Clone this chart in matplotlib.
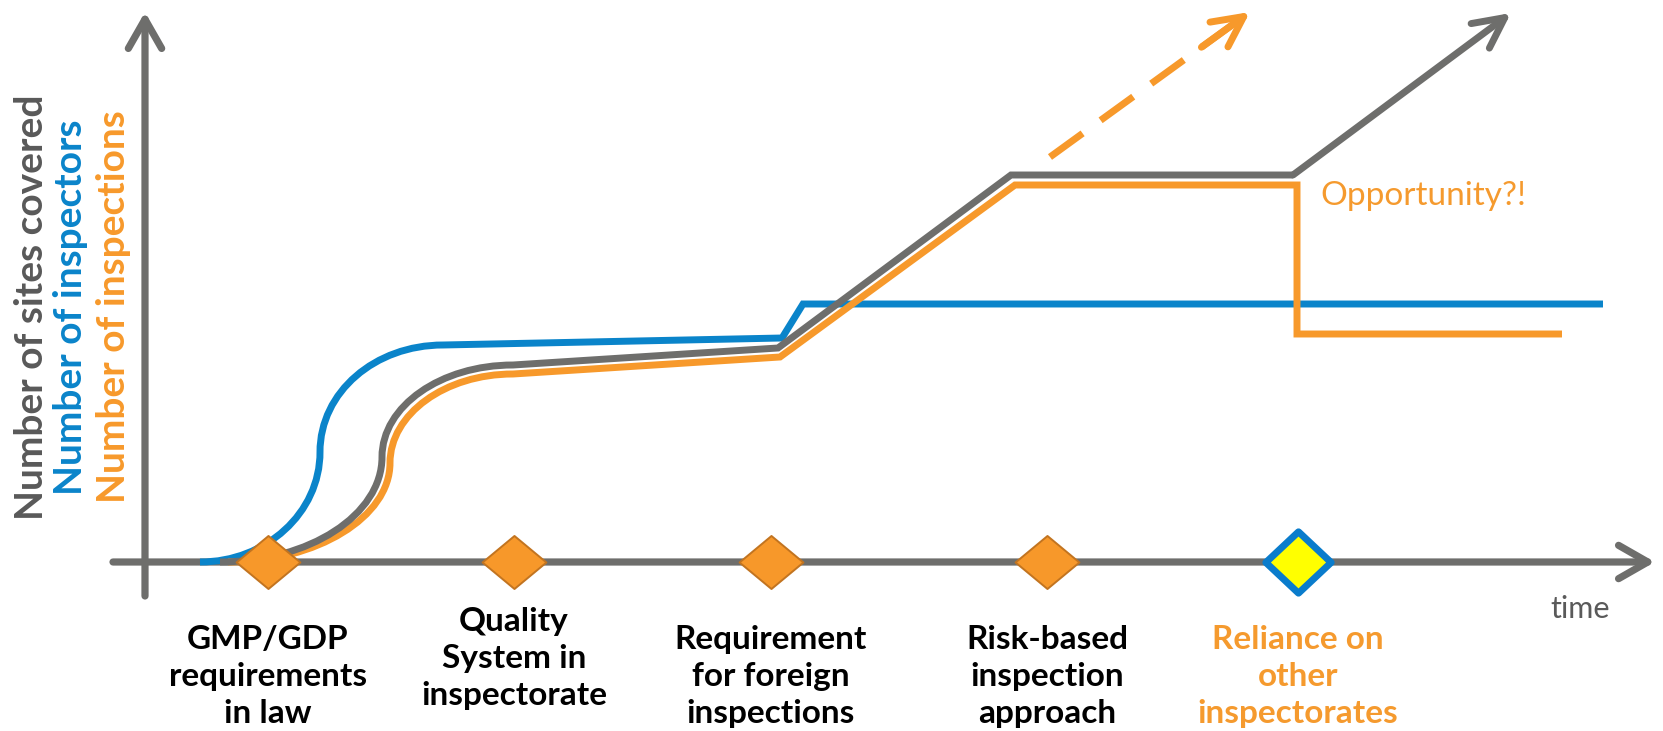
import matplotlib.pyplot as plt
import numpy as np
from matplotlib.path import Path
from matplotlib.patches import PathPatch, FancyArrowPatch

plt.rcParams['font.family'] = ['Lato', 'DejaVu Sans']

GREY = '#6e6e6c'
BLUE = '#0a84ca'
ORANGE = '#f7992b'
TEXT_ORANGE = '#f59a2e'

# milestones along the time axis
milestones = ['GMP/GDP\nrequirements\nin law',
              'Quality\nSystem in\ninspectorate',
              'Requirement\nfor foreign\ninspections',
              'Risk-based\ninspection\napproach',
              'Reliance on\nother\ninspectorates']
milestone_t = [1.23, 3.69, 6.26, 9.02, 11.53]

# number of inspectors (bezier S-curve, then straight segments)
inspectors_t = [0.55, 1.21, 1.75, 1.75, 1.75, 2.30, 2.98, 6.37, 6.58, 14.58]
inspectors_v = [0.00, 0.00, 0.49, 1.10, 1.70, 2.17, 2.17, 2.24, 2.58, 2.58]

# number of sites covered
sites_t = [0.75, 1.64, 2.37, 2.37, 2.37, 2.96, 3.68, 6.33, 8.66, 11.48]
sites_v = [0.00, 0.00, 0.47, 1.05, 1.56, 1.97, 1.97, 2.14, 3.87, 3.87]
sites_arrow_t = [11.48, 13.66]
sites_arrow_v = [3.87, 5.49]

# number of inspections
inspections_t = [0.83, 1.72, 2.45, 2.45, 2.45, 3.00, 3.68, 6.35, 8.70, 11.52, 11.52, 14.17]
inspections_v = [0.00, 0.00, 0.45, 0.99, 1.48, 1.88, 1.88, 2.05, 3.77, 3.77, 2.28, 2.28]
projection_t = [9.05, 11.05]
projection_v = [4.05, 5.50]

curve_codes = [Path.MOVETO] + [Path.CURVE4] * 6


def series_path(t, v):
    codes = curve_codes + [Path.LINETO] * (len(t) - 7)
    return Path(np.column_stack([t, v]), codes)


def open_arrow(ax, start, end, color, lw, hl=21, hw=12, z=3):
    arr = FancyArrowPatch(start, end,
                          arrowstyle=f'->,head_length={hl},head_width={hw}',
                          mutation_scale=1, shrinkA=0, shrinkB=0,
                          color=color, lw=lw, capstyle='round',
                          joinstyle='round', zorder=z)
    ax.add_patch(arr)


fig = plt.figure(figsize=(16.63, 7.31), dpi=100)
ax = fig.add_axes([0, 0, 1, 1])
ax.set_xlim(-1.45, 15.18)
ax.set_ylim(-1.69, 5.62)
ax.axis('off')

# axes with arrow heads
open_arrow(ax, (-0.32, 0), (15.10, 0), GREY, 5.2, z=1)
open_arrow(ax, (0, -0.34), (0, 5.50), GREY, 5.2, z=1)

lw = 5
ax.add_patch(PathPatch(series_path(inspectors_t, inspectors_v), fill=False,
                       ec=BLUE, lw=lw, joinstyle='miter', zorder=2))
ax.add_patch(PathPatch(series_path(inspections_t, inspections_v), fill=False,
                       ec=ORANGE, lw=lw, joinstyle='miter', zorder=2))
ax.add_patch(PathPatch(series_path(sites_t, sites_v), fill=False,
                       ec=GREY, lw=lw, joinstyle='miter', zorder=2.5))
open_arrow(ax, (sites_arrow_t[0], sites_arrow_v[0]),
           (sites_arrow_t[1], sites_arrow_v[1]), GREY, lw, hl=22, hw=11)

# dashed projection of inspections, solid tail into the head
ax.plot(projection_t, projection_v, color=ORANGE, lw=lw,
        ls=(0, (5.8, 3.2)), solid_capstyle='butt', dash_capstyle='butt', zorder=2)
tip = np.array([projection_t[1], projection_v[1]])
base = np.array([projection_t[0], projection_v[0]])
d = (tip - base) / np.linalg.norm(tip - base)
open_arrow(ax, tuple(tip - 0.6 * d), tuple(tip), ORANGE, lw, hl=22, hw=11)

# milestone markers
diamond = Path([(0, 0.83), (1, 0), (0, -0.83), (-1, 0), (0, 0.83)],
               [Path.MOVETO, Path.LINETO, Path.LINETO, Path.LINETO, Path.CLOSEPOLY])
square_diamond = Path([(0, 0.94), (1, 0), (0, -0.94), (-1, 0), (0, 0.94)],
                      [Path.MOVETO, Path.LINETO, Path.LINETO, Path.LINETO, Path.CLOSEPOLY])
ax.plot(milestone_t[:-1], [0] * 4, ls='none', marker=diamond, ms=46,
        mfc='#f7982a', mec='#c27420', mew=1.4, zorder=4)
ax.plot(milestone_t[-1:], [0], ls='none', marker=square_diamond, ms=47,
        mfc='#ffff00', mec='#0a7ccc', mew=5, zorder=4)

# milestone captions (anchored on the baseline of the last line)
for i, (t, lab) in enumerate(zip(milestone_t, milestones)):
    y = -1.43 if i == 1 else -1.61
    col = TEXT_ORANGE if i == len(milestones) - 1 else 'black'
    ax.text(t, y, lab, ha='center', va='baseline', fontsize=24,
            fontweight='bold', color=col, linespacing=1.34)

# axis titles
ax.text(14.35, -0.47, 'time', ha='center', va='center', fontsize=22, color='#5a5a5a')
for x, lab, col in [(-1.02, 'Number of sites covered', '#595959'),
                    (-0.63, 'Number of inspectors', BLUE),
                    (-0.20, 'Number of inspections', ORANGE)]:
    ax.text(x, 2.55, lab, rotation=90, rotation_mode='anchor', ha='center',
            va='baseline', fontsize=28, fontweight='bold', color=col)

ax.text(11.75, 3.57, 'Opportunity?!', ha='left', va='baseline',
        fontsize=24, color=TEXT_ORANGE)

fig.savefig('out.png', dpi=100)
